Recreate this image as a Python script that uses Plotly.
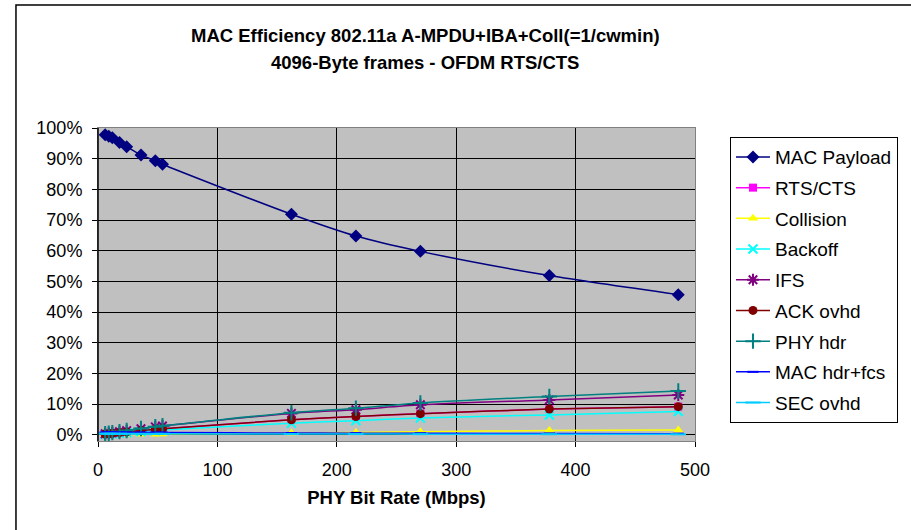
import plotly.graph_objects as go

rate = [6, 9, 12, 18, 24, 36, 48, 54, 162, 216, 270, 378, 486]

mac_payload = [97.8, 97.3, 96.8, 95.3, 93.9, 91.2, 89.3, 88.2, 71.9, 64.8, 59.8, 51.9, 45.7]
rts_cts     = [0.25, 0.37, 0.49, 0.73, 0.96, 1.4, 1.8, 2.0, 4.9, 6.0, 6.9, 8.4, 9.2]
collision   = [0.03, 0.05, 0.07, 0.1, 0.13, 0.18, 0.22, 0.25, 0.6, 0.8, 1.0, 1.4, 1.6]
backoff     = [0.19, 0.29, 0.38, 0.56, 0.74, 1.08, 1.4, 1.56, 3.8, 4.6, 5.5, 6.5, 7.6]
ifs         = [0.36, 0.53, 0.7, 1.04, 1.37, 2.0, 2.6, 2.9, 7.0, 8.2, 9.8, 11.4, 13.0]
ack_ovhd    = [0.25, 0.37, 0.49, 0.73, 0.96, 1.4, 1.8, 2.0, 4.9, 6.0, 6.9, 8.4, 9.2]
phy_hdr     = [0.37, 0.55, 0.72, 1.07, 1.4, 2.05, 2.66, 2.96, 7.2, 8.7, 10.4, 12.5, 14.3]
mac_hdr_fcs = [0.82, 0.81, 0.81, 0.8, 0.79, 0.77, 0.75, 0.74, 0.6, 0.55, 0.5, 0.44, 0.38]
sec_ovhd    = [0.39, 0.38, 0.38, 0.38, 0.37, 0.36, 0.35, 0.35, 0.28, 0.26, 0.24, 0.21, 0.18]

series = [
    ("MAC Payload", mac_payload, "#000080", "diamond", 10),
    ("RTS/CTS", rts_cts, "#FF00FF", "square", 8),
    ("Collision", collision, "#FFFF00", "triangle-up", 9),
    ("Backoff", backoff, "#00FFFF", "x-thin", 9),
    ("IFS", ifs, "#800080", "asterisk", 10),
    ("ACK ovhd", ack_ovhd, "#800000", "circle", 9),
    ("PHY hdr", phy_hdr, "#008080", "cross-thin", 11),
    ("MAC hdr+fcs", mac_hdr_fcs, "#0000FF", "line-ew", 8),
    ("SEC ovhd", sec_ovhd, "#00CCFF", "line-ew", 11),
]

FONT = "Liberation Sans, Arial, sans-serif"

fig = go.Figure()
for i, (name, vals, col, sym, sz) in enumerate(series):
    open_sym = sym in ("x-thin", "asterisk", "cross-thin", "line-ew")
    fig.add_trace(go.Scatter(
        x=rate, y=[v / 100 for v in vals], name=name, mode="lines+markers",
        legendgroup="g%d" % i,
        line=dict(color=col, width=1.5, shape="spline", smoothing=0.8),
        marker=dict(symbol=sym, size=sz, color=col,
                    line=dict(color=col, width=2 if open_sym else 0)),
    ))

fig.update_layout(
    width=911, height=530,
    margin=dict(l=98, r=216, t=128, b=89, autoexpand=False),
    paper_bgcolor="white", plot_bgcolor="#C0C0C0",
    font=dict(family=FONT, size=18, color="black"),
    showlegend=True,
    legend=dict(x=1.0586, y=0.971, xanchor="left", yanchor="top",
                bgcolor="white", bordercolor="black", borderwidth=1,
                font=dict(family=FONT, size=19, color="black"),
                tracegroupgap=3, traceorder="grouped", itemwidth=34),
    xaxis=dict(range=[0, 500], tickvals=[0, 100, 200, 300, 400, 500],
               showgrid=True, gridcolor="black", gridwidth=1,
               zeroline=False, showline=True, linecolor="#808080", linewidth=1,
               ticks="outside", ticklen=5, tickcolor="black",
               ticklabelstandoff=7,
               tickfont=dict(family=FONT, size=18),
               title=dict(text="<b>PHY Bit Rate (Mbps)</b>", standoff=12,
                          font=dict(family=FONT, size=18.5)),
               mirror=True),
    yaxis=dict(range=[-0.02, 1.0], tickvals=[i / 10 for i in range(11)],
               tickformat=".0%",
               showgrid=True, gridcolor="black", gridwidth=1,
               zeroline=False, showline=True, linecolor="#808080", linewidth=1,
               ticks="outside", ticklen=5, tickcolor="black",
               ticklabelstandoff=6,
               tickfont=dict(family=FONT, size=18),
               mirror=True),
    annotations=[
        dict(text="<b>MAC Efficiency 802.11a A-MPDU+IBA+Coll(=1/cwmin)</b>",
             xref="paper", yref="paper", x=0.548, y=1.294, showarrow=False,
             xanchor="center", yanchor="middle", font=dict(family=FONT, size=18.5)),
        dict(text="<b>4096-Byte frames - OFDM RTS/CTS</b>",
             xref="paper", yref="paper", x=0.548, y=1.208, showarrow=False,
             xanchor="center", yanchor="middle", font=dict(family=FONT, size=18.5)),
    ],
    shapes=[
        dict(type="rect", xref="paper", yref="paper", x0=-0.1374, y0=-1, x1=2, y1=1.393,
             line=dict(color="black", width=1.5), fillcolor="rgba(0,0,0,0)", layer="below"),
        dict(type="line", xref="paper", yref="paper", x0=0, y0=0, x1=0, y1=1,
             line=dict(color="black", width=1.5)),
    ],
)

fig.write_html("out.html")
